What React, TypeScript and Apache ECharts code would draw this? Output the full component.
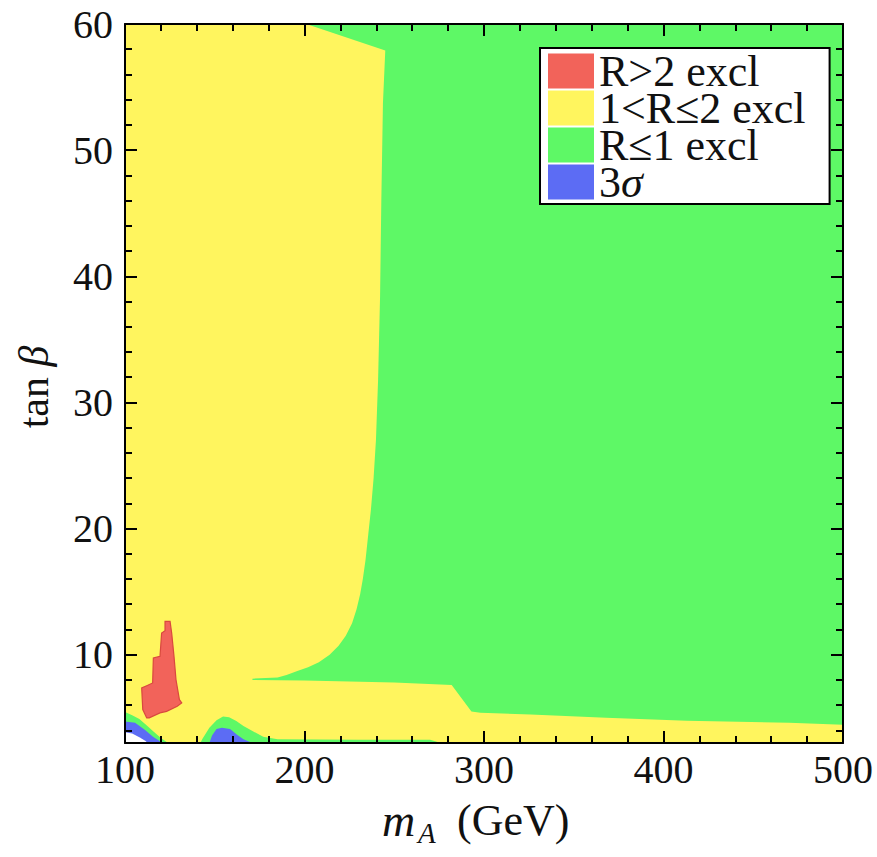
import React, { useEffect, useRef } from "react";
import * as echarts from "echarts";

// ---- axis ticks / labels ----
const xMajorTicks = [100, 200, 300, 400, 500];
const xMinorTicks = [120, 140, 160, 180, 220, 240, 260, 280, 320, 340, 360, 380, 420, 440, 460, 480];
const yMajorTicks = [10, 20, 30, 40, 50, 60];
const yMinorTicks = [4, 6, 8, 12, 14, 16, 18, 22, 24, 26, 28, 32, 34, 36, 38, 42, 44, 46, 48, 52, 54, 56, 58];

// ---- legend categories ----
const categories = ["R>2 excl", "1<R≤2 excl", "R≤1 excl", "3σ"];

// ---- region boundaries (mA [GeV], tanβ) ----
const yellowRegion = [[100, 3], [500, 3], [500, 60], [100, 60]];

const greenMain = [
  [201, 60], [245, 57.9], [243.7, 53.7], [242.8, 46], [242.1, 38.4], [241, 31.8], [239.8, 27],
  [238.5, 24], [237, 21.5], [235.5, 19.5], [234, 17.5], [232.5, 16], [231, 14.8], [229, 13.6],
  [226.5, 12.5], [223, 11.5], [219, 10.7], [214, 10.0], [208, 9.4], [202, 9.0], [196, 8.7],
  [190, 8.4], [185, 8.2], [171, 8.1], [171, 8.0], [200, 7.95], [250, 7.8], [282, 7.6],
  [293, 5.5], [298, 5.4], [326, 5.25], [368, 5.0], [413, 4.77], [470, 4.6], [500, 4.45], [500, 60],
];
const greenLeft = [
  [100, 5.45], [104, 5.2], [108, 4.9], [112, 4.4], [116, 3.9], [120, 3.4], [124, 3.0], [100, 3.0],
];
const greenBump = [
  [142, 3.0], [143, 3.3], [147, 4.2], [151, 4.8], [154.6, 5.1], [158, 5.05], [162, 4.75],
  [166, 4.35], [171, 3.95], [177, 3.5], [185, 3.3], [230, 3.25], [270, 3.25], [276, 3.0],
];
const blueLeft = [[100, 4.7], [105.6, 4.6], [111, 4.06], [115.6, 3.5], [121, 3.0], [100, 3.0]];
const blueBump = [
  [147, 3.0], [148.5, 3.6], [151, 4.1], [154, 4.2], [158.5, 4.1], [162.4, 3.66],
  [166, 3.3], [170, 3.05], [172, 3.0],
];
const whiteCorner = [[100, 3.85], [104, 3.75], [108, 3.45], [111.5, 3.15], [112.5, 3.0], [100, 3.0]];
const redIsland = [
  [122.3, 12.64], [125.1, 12.64], [126.0, 11.72], [127.3, 9.87], [128.4, 8.03], [130.3, 6.44],
  [131.6, 6.18], [129.1, 5.91], [123.2, 5.51], [119.5, 5.39], [113.5, 4.99], [112.1, 4.99],
  [109.9, 5.65], [109.3, 7.36], [112.1, 7.54], [115.4, 7.76], [115.8, 9.74], [119.5, 9.87],
  [120.4, 11.72], [122.3, 11.9],
];

const COLORS = {
  red: "#F2635A",
  yellow: "#FFF55E",
  green: "#5EF866",
  blue: "#5C6CF4",
};

const FONT = "'Liberation Serif', 'Times New Roman', serif";

function regionSeries(name: string, color: string, polys: number[][][], stroke?: string) {
  return {
    type: "custom",
    name,
    xAxisIndex: 0,
    yAxisIndex: 0,
    itemStyle: { color },
    encode: { x: 0, y: 1 },
    data: polys.map((p) => p[0]),
    silent: true,
    renderItem: (params: any, api: any) => {
      const poly = polys[params.dataIndex];
      return {
        type: "polygon",
        shape: { points: poly.map((pt) => api.coord(pt)) },
        style: {
          fill: color,
          stroke: stroke || "none",
          lineWidth: stroke ? 1.2 : 0,
        },
      };
    },
  };
}

function xAxisDef(position: string, ticks: number[], len: number, labels: boolean, line: boolean) {
  return {
    type: "value",
    min: 100,
    max: 500,
    position,
    z: 10,
    axisLine: { show: line, onZero: false, lineStyle: { color: "#000", width: 2 } },
    axisTick: { show: true, inside: true, length: len, customValues: ticks, lineStyle: { color: "#000", width: 2 } },
    axisLabel: labels
      ? { show: true, customValues: ticks, margin: 6, fontSize: 40, fontFamily: FONT, color: "#111" }
      : { show: false },
    splitLine: { show: false },
  };
}

function yAxisDef(position: string, ticks: number[], len: number, labels: boolean, line: boolean) {
  return {
    type: "value",
    min: 3,
    max: 60,
    position,
    z: 10,
    axisLine: { show: line, onZero: false, lineStyle: { color: "#000", width: 2 } },
    axisTick: { show: true, inside: true, length: len, customValues: ticks, lineStyle: { color: "#000", width: 2 } },
    axisLabel: labels
      ? { show: true, customValues: ticks, margin: 12, fontSize: 40, fontFamily: FONT, color: "#111" }
      : { show: false },
    splitLine: { show: false },
  };
}

export default function App() {
  const ref = useRef<HTMLDivElement>(null);

  useEffect(() => {
    if (!ref.current) return;
    const chart = echarts.init(ref.current, undefined, { renderer: "svg" });
    const legendText = { fontSize: 44, fontFamily: FONT, color: "#111" };
    chart.setOption({
      animation: false,
      backgroundColor: "#fff",
      grid: { left: 125, top: 24, right: 34, bottom: 114, containLabel: false },
      xAxis: [
        xAxisDef("bottom", xMajorTicks, 12, true, true),
        xAxisDef("top", xMajorTicks, 12, false, true),
        xAxisDef("bottom", xMinorTicks, 7, false, false),
        xAxisDef("top", xMinorTicks, 7, false, false),
      ],
      yAxis: [
        yAxisDef("left", yMajorTicks, 12, true, true),
        yAxisDef("right", yMajorTicks, 12, false, true),
        yAxisDef("left", yMinorTicks, 7, false, false),
        yAxisDef("right", yMinorTicks, 7, false, false),
      ],
      legend: {
        show: true,
        orient: "vertical",
        left: 540,
        top: 48,
        padding: [1, 24, 0, 8],
        itemGap: -7,
        itemWidth: 46,
        itemHeight: 35,
        backgroundColor: "#fff",
        borderColor: "#000",
        borderWidth: 2,
        borderRadius: 0,
        selectedMode: false,
        data: categories.map((name) => ({ name, icon: "rect" })),
        formatter: (name: string) => (name === "3σ" ? "{t|3}{i|σ}" : "{t|" + name + "}"),
        textStyle: {
          fontSize: 44,
          fontFamily: FONT,
          color: "#111",
          rich: {
            t: legendText,
            i: { ...legendText, fontStyle: "italic" },
          },
        },
      },
      series: [
        regionSeries(categories[1], COLORS.yellow, [yellowRegion]),
        regionSeries(categories[2], COLORS.green, [greenMain, greenLeft, greenBump]),
        regionSeries(categories[3], COLORS.blue, [blueLeft, blueBump]),
        regionSeries("blank", "#ffffff", [whiteCorner]),
        regionSeries(categories[0], COLORS.red, [redIsland], "#D9483F"),
      ],
      graphic: [
        {
          type: "text",
          x: 382,
          y: 820,
          style: { text: "m", fontSize: 46, fontFamily: FONT, fontStyle: "italic", fill: "#111", align: "left", verticalAlign: "middle" },
        },
        {
          type: "text",
          x: 418,
          y: 833,
          style: { text: "A", fontSize: 29, fontFamily: FONT, fontStyle: "italic", fill: "#111", align: "left", verticalAlign: "middle" },
        },
        {
          type: "text",
          x: 457,
          y: 820,
          style: { text: "(GeV)", fontSize: 44, fontFamily: FONT, fill: "#111", align: "left", verticalAlign: "middle" },
        },
        {
          type: "text",
          x: 34,
          y: 387,
          rotation: Math.PI / 2,
          style: {
            text: "tan {b|β}",
            rich: { b: { fontSize: 42, fontFamily: FONT, fontStyle: "italic", fill: "#111" } },
            fontSize: 42,
            fontFamily: FONT,
            fill: "#111",
            align: "center",
            verticalAlign: "middle",
          },
        },
      ],
    });
    return () => chart.dispose();
  }, []);

  return (
    <div
      ref={ref}
      style={{ position: "fixed", left: 0, top: 0, width: 877, height: 857, background: "#fff" }}
    />
  );
}
